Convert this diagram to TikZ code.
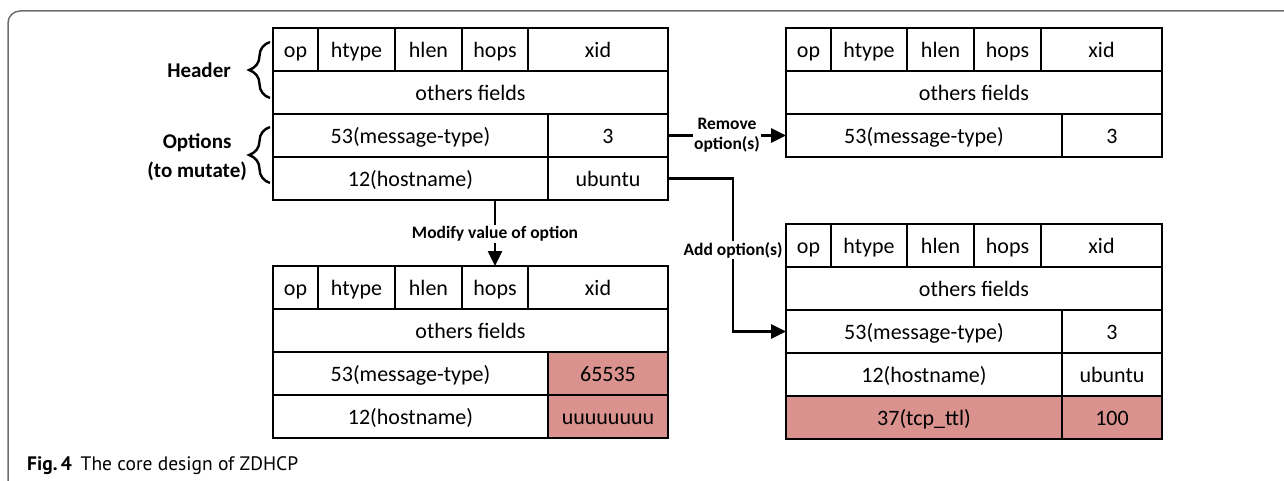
\documentclass[tikz,border=0pt]{standalone}
\usepackage{fontspec}
\setmainfont{Carlito}
\newfontfamily\capfont{PT Sans}
\usetikzlibrary{arrows.meta,decorations.pathreplacing,calc}
\definecolor{hlc}{RGB}{217,146,141}
\definecolor{framec}{RGB}{110,110,110}
\tikzset{
  cell/.style={draw=black, line width=2.6pt, minimum height=43pt, inner sep=0pt, outer sep=0pt,
    anchor=north west, fill=white, font=\fontsize{22}{26}\selectfont,
    text height=18pt, text depth=2pt},
  hl/.style={fill=hlc},
  lbl/.style={font=\fontsize{17.5}{20}\selectfont\bfseries, align=center, fill=white, inner sep=1.5pt},
  sidelbl/.style={font=\fontsize{21}{29}\selectfont\bfseries, align=center, inner sep=0pt},
  arr/.style={line width=2.6pt, -{Triangle[length=15pt,width=14pt]}},
  bracestyle/.style={line width=2.4pt, decorate, decoration={brace, amplitude=21pt}},
}
\begin{document}
\begin{tikzpicture}[x=1pt,y=1pt]
\useasboundingbox (0,0) rectangle (1284,-481);
% frame
\draw[framec, line width=1.5pt, rounded corners=12pt] (8,-481) -- (8,-11) -- (1284,-11);

% ---- Table 1 (original)
\node[cell, minimum width=45pt]  (t1op)  at (273,-28) {op};
\node[cell, minimum width=77pt]  (t1ht)  at (318,-28) {htype};
\node[cell, minimum width=67pt]  (t1hl)  at (395,-28) {hlen};
\node[cell, minimum width=66pt]  (t1hp)  at (462,-28) {hops};
\node[cell, minimum width=140pt] (t1xid) at (528,-28) {xid};
\node[cell, minimum width=395pt] (t1oth) at (273,-71) {others fields};
\node[cell, minimum width=275pt] (t1n1)  at (273,-114) {53(message-type)};
\node[cell, minimum width=120pt] (t1v1)  at (548,-114) {3};
\node[cell, minimum width=275pt] (t1n2)  at (273,-157) {12(hostname)};
\node[cell, minimum width=120pt] (t1v2)  at (548,-157) {ubuntu};

% ---- Table 2 (remove)
\node[cell, minimum width=45pt]  (t2op)  at (786,-28) {op};
\node[cell, minimum width=76pt]  (t2ht)  at (831,-28) {htype};
\node[cell, minimum width=67pt]  (t2hl)  at (907,-28) {hlen};
\node[cell, minimum width=67pt]  (t2hp)  at (974,-28) {hops};
\node[cell, minimum width=121pt] (t2xid) at (1041,-28) {xid};
\node[cell, minimum width=376pt] (t2oth) at (786,-71) {others fields};
\node[cell, minimum width=276pt] (t2n1)  at (786,-114) {53(message-type)};
\node[cell, minimum width=100pt] (t2v1)  at (1062,-114) {3};

% ---- Table 3 (modify)
\node[cell, minimum width=45pt]  (t3op)  at (273,-266) {op};
\node[cell, minimum width=77pt]  (t3ht)  at (318,-266) {htype};
\node[cell, minimum width=67pt]  (t3hl)  at (395,-266) {hlen};
\node[cell, minimum width=66pt]  (t3hp)  at (462,-266) {hops};
\node[cell, minimum width=140pt] (t3xid) at (528,-266) {xid};
\node[cell, minimum width=395pt] (t3oth) at (273,-309) {others fields};
\node[cell, minimum width=275pt] (t3n1)  at (273,-352) {53(message-type)};
\node[cell, hl, minimum width=120pt] (t3v1) at (548,-352) {65535};
\node[cell, minimum width=275pt] (t3n2)  at (273,-395) {12(hostname)};
\node[cell, hl, minimum width=120pt] (t3v2) at (548,-395) {uuuuuuuu};

% ---- Table 4 (add)
\node[cell, minimum width=45pt]  (t4op)  at (786,-224) {op};
\node[cell, minimum width=76pt]  (t4ht)  at (831,-224) {htype};
\node[cell, minimum width=67pt]  (t4hl)  at (907,-224) {hlen};
\node[cell, minimum width=67pt]  (t4hp)  at (974,-224) {hops};
\node[cell, minimum width=121pt] (t4xid) at (1041,-224) {xid};
\node[cell, minimum width=376pt] (t4oth) at (786,-267) {others fields};
\node[cell, minimum width=276pt] (t4n1)  at (786,-310) {53(message-type)};
\node[cell, minimum width=100pt] (t4v1)  at (1062,-310) {3};
\node[cell, minimum width=276pt] (t4n2)  at (786,-353) {12(hostname)};
\node[cell, minimum width=100pt] (t4v2)  at (1062,-353) {ubuntu};
\node[cell, hl, minimum width=276pt] (t4n3) at (786,-396) {37(tcp\_ttl)};
\node[cell, hl, minimum width=100pt] (t4v3) at (1062,-396) {100};

% ---- braces and side labels
\coordinate (b1a) at (270,-98);
\coordinate (b1b) at (270,-42);
\coordinate (b2a) at (270,-183);
\coordinate (b2b) at (270,-127);
\draw[bracestyle] (b1a) -- (b1b);
\draw[bracestyle] (b2a) -- (b2b);
\node[sidelbl, anchor=east] (hdrlbl) at (231,-70) {Header};
\node[sidelbl, anchor=east] (optlbl) at (247,-157) {Options\\(to mutate)};

% ---- connectors
\draw[arr] (t1v1.east) -- (t2n1.west)
  node[lbl, pos=0.5] (remlbl) {Remove\\option(s)};
\coordinate (addturn) at (733,-178.5);
\draw[arr] (t1v2.east) -- (addturn) |- (t4n1.west);
\node[lbl] (addlbl) at (733,-250) {Add option(s)};
\coordinate (modstart) at (t3hp.north |- t1n2.south);
\draw[arr] (modstart) -- (t3hp.north);
\node[lbl] (modlbl) at (495,-234) {Modify value of option};

% ---- caption
\node[anchor=base west, inner sep=0pt, font=\capfont\fontsize{19.5}{22}\selectfont] (cap) at (27,-470)
  {\textbf{Fig.\,4}\hspace{0.45em}The core design of ZDHCP};
\end{tikzpicture}
\end{document}
